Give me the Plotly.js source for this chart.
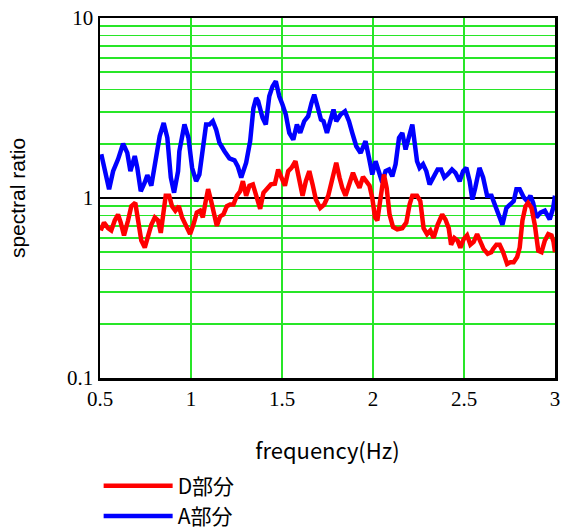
<!DOCTYPE html>
<html>
<head>
<meta charset="utf-8">
<script src="https://cdn.plot.ly/plotly-3.0.1.min.js"></script>
<style>html,body{margin:0;padding:0;background:#fff;}#chart{width:566px;height:529px;}</style>
</head>
<body>
<div id="chart"></div>
<script>
// A部分 (blue)
const freqA = [0.507,0.526,0.550,0.572,0.599,0.627,0.650,0.667,0.691,0.705,0.724,0.746,0.760,0.782,0.804,0.828,0.850,0.870,0.889,0.907,0.929,
  0.936,0.964,0.986,1.006,1.028,1.046,1.065,1.083,1.101,1.120,1.138,1.156,1.184,1.211,1.239,1.257,1.276,1.303,1.325,1.343,1.358,
  1.369,1.393,1.411,1.430,1.448,1.466,1.485,1.503,1.521,1.540,1.562,1.582,1.600,1.622,1.644,1.662,1.677,1.695,1.714,1.728,1.747,1.765,1.783,
  1.798,1.822,1.846,1.868,1.886,1.908,1.932,1.959,1.978,1.996,2.014,2.033,2.051,2.069,2.088,2.106,2.124,2.143,2.161,2.179,2.198,2.216,
  2.242,2.256,2.275,2.293,2.311,2.333,2.355,2.374,2.392,2.410,2.434,2.453,2.476,2.495,2.513,2.531,2.546,2.562,2.585,2.605,2.627,
  2.651,2.669,2.688,2.711,2.733,2.755,2.773,2.788,2.806,2.828,2.847,2.865,2.880,2.898,2.920,2.944,2.971,2.990,3.000];
const ratioA = [1.75,1.47,1.12,1.41,1.64,2.00,1.78,1.41,1.71,1.47,1.09,1.22,1.34,1.17,1.54,2.21,2.61,2.16,1.30,1.07,1.41,
  1.82,2.56,2.16,1.47,1.24,1.35,1.98,2.56,2.56,2.67,2.40,2.03,1.82,1.66,1.62,1.50,1.30,1.57,2.07,3.16,3.59,
  3.45,2.79,2.56,3.67,4.17,4.45,3.67,3.30,2.91,2.30,2.11,2.56,2.30,2.67,2.85,3.37,3.75,3.23,2.73,2.67,2.30,2.67,3.10,
  2.67,2.91,3.03,2.67,2.30,1.94,1.78,2.07,1.67,1.35,1.60,1.41,1.22,1.41,1.44,1.32,1.54,2.16,2.30,1.86,2.16,2.56,
  1.60,1.47,1.54,1.41,1.19,1.30,1.44,1.44,1.30,1.35,1.44,1.38,1.24,1.41,1.47,1.24,0.98,1.14,1.47,1.30,1.03,
  1.03,0.92,0.81,0.71,0.88,0.92,0.96,1.12,1.12,1.01,0.96,1.03,0.94,0.78,0.83,0.85,0.76,0.88,1.03];

// D部分 (red)
const freqD = [0.504,0.522,0.544,0.562,0.581,0.599,0.614,0.632,0.654,0.672,0.694,0.709,0.727,0.746,0.764,0.782,0.801,0.819,0.834,0.847,
  0.861,0.880,0.896,0.914,0.933,0.951,0.973,0.995,1.013,1.032,1.050,1.065,1.079,1.094,1.111,1.129,1.142,1.160,1.178,1.197,1.215,1.233,
  1.252,1.270,1.285,1.303,1.321,1.340,1.358,1.380,1.398,1.420,1.439,1.461,1.479,1.497,1.516,1.534,1.552,1.574,1.593,1.613,1.631,1.650,
  1.668,1.686,1.710,1.732,1.754,1.772,1.787,1.798,1.816,1.831,1.849,1.868,1.890,1.908,1.926,1.945,1.963,1.981,1.996,2.011,2.024,2.042,
  2.060,2.075,2.091,2.110,2.133,2.161,2.183,2.201,2.216,2.242,2.260,2.278,2.297,2.315,2.333,2.355,2.380,2.398,2.416,2.429,2.447,2.465,
  2.480,2.498,2.517,2.535,2.553,2.572,2.590,2.608,2.630,2.650,2.659,2.678,2.696,2.715,2.737,2.755,2.773,2.792,2.806,2.821,2.838,2.852,
  2.871,2.889,2.908,2.926,2.944,2.963,2.981,2.992,3.000];
const ratioD = [0.66,0.73,0.68,0.66,0.75,0.81,0.73,0.62,0.75,0.90,0.94,0.78,0.58,0.53,0.62,0.71,0.78,0.75,0.64,0.78,
  1.03,1.03,0.90,0.85,0.90,0.78,0.71,0.63,0.71,0.83,0.85,0.78,0.94,1.12,0.96,0.79,0.70,0.79,0.81,0.90,0.92,0.92,
  1.03,1.09,1.24,1.03,1.17,1.19,1.05,0.87,1.07,1.14,1.19,1.20,1.44,1.30,1.17,1.41,1.47,1.60,1.30,1.03,1.24,1.41,
  1.19,0.98,0.88,0.92,1.03,1.24,1.47,1.57,1.30,1.14,1.03,1.17,1.38,1.24,1.14,1.31,1.24,1.17,1.00,0.78,0.75,1.00,
  1.35,1.14,0.81,0.69,0.67,0.68,0.73,0.92,1.03,1.03,0.96,0.68,0.63,0.66,0.60,0.71,0.81,0.76,0.68,0.55,0.60,0.58,
  0.53,0.59,0.62,0.55,0.57,0.63,0.58,0.52,0.49,0.50,0.52,0.55,0.55,0.50,0.43,0.44,0.44,0.47,0.53,0.75,0.90,0.94,
  0.88,0.71,0.51,0.50,0.58,0.63,0.62,0.57,0.50];

const xTicks = [0.5, 1, 1.5, 2, 2.5, 3];
const xTickText = ['0.5', '1', '1.5', '2', '2.5', '3'];
const yTicks = [0.1, 1, 10];
const yTickText = ['0.1', '1', '10'];

const traces = [
  {x: freqA, y: ratioA, name: 'A部分', type: 'scatter', mode: 'lines',
   line: {color: 'rgb(0,0,255)', width: 4.5}},
  {x: freqD, y: ratioD, name: 'D部分', type: 'scatter', mode: 'lines',
   line: {color: 'rgb(255,0,0)', width: 4.5}}
];

const layout = {
  width: 566, height: 529,
  margin: {l: 100, r: 11, t: 18, b: 151, autoexpand: false},
  paper_bgcolor: '#fff', plot_bgcolor: '#fff',
  font: {family: 'Liberation Sans', color: '#000'},
  showlegend: true,
  legend: {
    x: -0.003, y: -0.243, xanchor: 'left', yanchor: 'top',
    traceorder: 'reversed', itemwidth: 69, tracegroupgap: 0,
    font: {family: 'Noto Sans CJK JP', size: 21, color: '#000'},
    bgcolor: 'rgba(0,0,0,0)'
  },
  xaxis: {
    type: 'linear', range: [0.5, 3], autorange: false,
    tickvals: xTicks, ticktext: xTickText, ticks: '',
    showgrid: true, gridcolor: 'rgb(40,230,40)', gridwidth: 1.5,
    showline: true, mirror: true, linecolor: '#000', linewidth: 2.5,
    zeroline: false,
    tickfont: {family: 'Liberation Serif', size: 21, color: '#000'},
    title: {text: 'frequency(Hz)', font: {family: 'Noto Sans CJK JP', size: 22, color: '#000'}, standoff: 34},
    automargin: false
  },
  yaxis: {
    type: 'log', range: [-1, 1], autorange: false,
    tickvals: yTicks, ticktext: yTickText, ticks: '',
    showgrid: true, gridcolor: '#000', gridwidth: 1.5,
    showline: true, mirror: true, linecolor: '#000', linewidth: 2.5,
    zeroline: false,
    minor: {dtick: 'D1', showgrid: true, gridcolor: 'rgb(40,230,40)', gridwidth: 1.5, ticks: ''},
    tickfont: {family: 'Liberation Serif', size: 21, color: '#000'},
    title: {text: 'spectral ratio', font: {family: 'Liberation Sans', size: 21, color: '#000'}, standoff: 36},
    automargin: false
  }
};

Plotly.newPlot('chart', traces, layout, {displayModeBar: false, staticPlot: true});
</script>
</body>
</html>
